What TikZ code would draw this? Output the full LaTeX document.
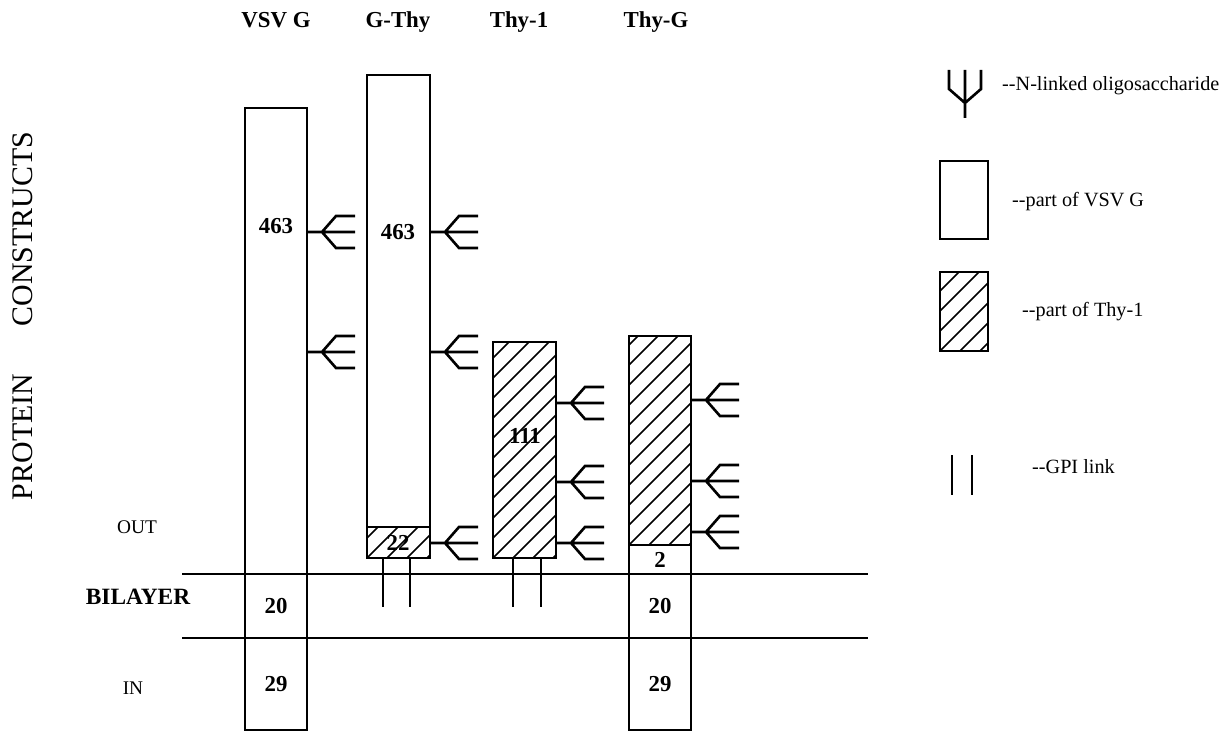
\documentclass[tikz,border=0pt]{standalone}
\usepackage{fontspec}
\setmainfont{Liberation Serif}
\usetikzlibrary{positioning}

\tikzset{
  seg/.style={draw=black, line width=1.6pt},
  hatchline/.style={line width=0.9pt},
  sugar/.style={line width=1.5pt},
  gpi/.style={line width=1.4pt},
  membrane/.style={line width=1.3pt},
  num/.style={font=\fontsize{13}{15}\selectfont\bfseries},
  head/.style={font=\fontsize{13}{15}\selectfont\bfseries, anchor=base},
  side/.style={font=\fontsize{11}{13}\selectfont},
  vert/.style={font=\fontsize{17}{19}\selectfont, rotate=90},
  legtext/.style={font=\fontsize{11.5}{13}\selectfont, anchor=west},
  glycan/.pic={
    \draw[sugar] (0,0) -- (48,0)
      (15,0) -- (29,-16) -- (48,-16)
      (15,0) -- (29,16) -- (48,16);
  }
}

% hachures d'une boite
\newcommand{\hatchrect}[4]{%
  \begin{scope}
    \clip (#1,#2) rectangle (#3,#4);
    \foreach \k in {-240,-220,...,80}
      \draw[hatchline] (#1+\k,#4) -- ++(300,-300);
  \end{scope}}

\begin{document}
\begin{tikzpicture}[x=0.02cm, y=-0.02cm]
    \useasboundingbox (0,0) rectangle (1225,740);

    % Titres des constructions
    \node[head] (tvsv) at (276,28) {VSV G};
    \node[head] (tgthy) at (398,28) {G-Thy};
    \node[head] (tthy) at (519,28) {Thy-1};
    \node[head] (tthyg) at (656,28) {Thy-G};

    % Texte a gauche
    \node[vert] (constructs) at (23,229) {CONSTRUCTS};
    \node[vert] (protein) at (23,437) {PROTEIN};
    \node[side] (out) at (137,527) {OUT};
    \node[font=\fontsize{13.3}{15}\selectfont\bfseries] (bilayer) at (138,597) {BILAYER};
    \node[side] (in) at (133,688) {IN};

    % Membrane
    \coordinate (mtopl) at (182,574);
    \coordinate (mtopr) at (868,574);
    \coordinate (mbotl) at (182,638);
    \coordinate (mbotr) at (868,638);
    \draw[membrane] (mtopl) -- (mtopr);
    \draw[membrane] (mbotl) -- (mbotr);

    % VSV G
    \draw[seg] (245,108) rectangle (307,730);
    \node[num] (vsvecto) at (276,226) {463};
    \node[num] (vsvtm) at (276,606) {20};
    \node[num] (vsvcyto) at (276,684) {29};
    \pic at (307,232) {glycan};
    \pic at (307,352) {glycan};

    % G-Thy
    \hatchrect{367}{527}{430}{558}
    \draw[seg] (367,75) rectangle (430,558);
    \draw[seg] (367,527) -- (430,527);
    \node[num] (gthyecto) at (398,232) {463};
    \node[num] (gthytail) at (398,543) {22};
    \pic at (430,232) {glycan};
    \pic at (430,352) {glycan};
    \pic at (430,543) {glycan};
    \draw[gpi] (383,558) -- (383,607);
    \draw[gpi] (410,558) -- (410,607);

    % Thy-1
    \hatchrect{493}{342}{556}{558}
    \draw[seg] (493,342) rectangle (556,558);
    \node[num] (thyecto) at (525,436) {111};
    \pic at (556,403) {glycan};
    \pic at (556,482) {glycan};
    \pic at (556,543) {glycan};
    \draw[gpi] (513,558) -- (513,607);
    \draw[gpi] (541,558) -- (541,607);

    % Thy-G
    \hatchrect{629}{336}{691}{545}
    \draw[seg] (629,336) rectangle (691,730);
    \draw[seg] (629,545) -- (691,545);
    \node[num] (thygstem) at (660,560) {2};
    \node[num] (thygtm) at (660,606) {20};
    \node[num] (thygcyto) at (660,684) {29};
    \pic at (691,400) {glycan};
    \pic at (691,481) {glycan};
    \pic at (691,532) {glycan};

    % Legende
    \pic[rotate=90] at (965,118) {glycan};
    \node[legtext] (lglycan) at (996,86) {-{}-N-linked oligosaccharide};
    \draw[seg] (940,161) rectangle (988,239);
    \node[legtext] (lvsv) at (1006,202) {-{}-part of VSV G};
    \hatchrect{940}{272}{988}{351}
    \draw[seg] (940,272) rectangle (988,351);
    \node[legtext] (lthy) at (1016,312) {-{}-part of Thy-1};
    \draw[gpi] (952,455) -- (952,495);
    \draw[gpi] (972,455) -- (972,495);
    \node[legtext] (lgpi) at (1026,467) {-{}-GPI link};
\end{tikzpicture}
\end{document}
